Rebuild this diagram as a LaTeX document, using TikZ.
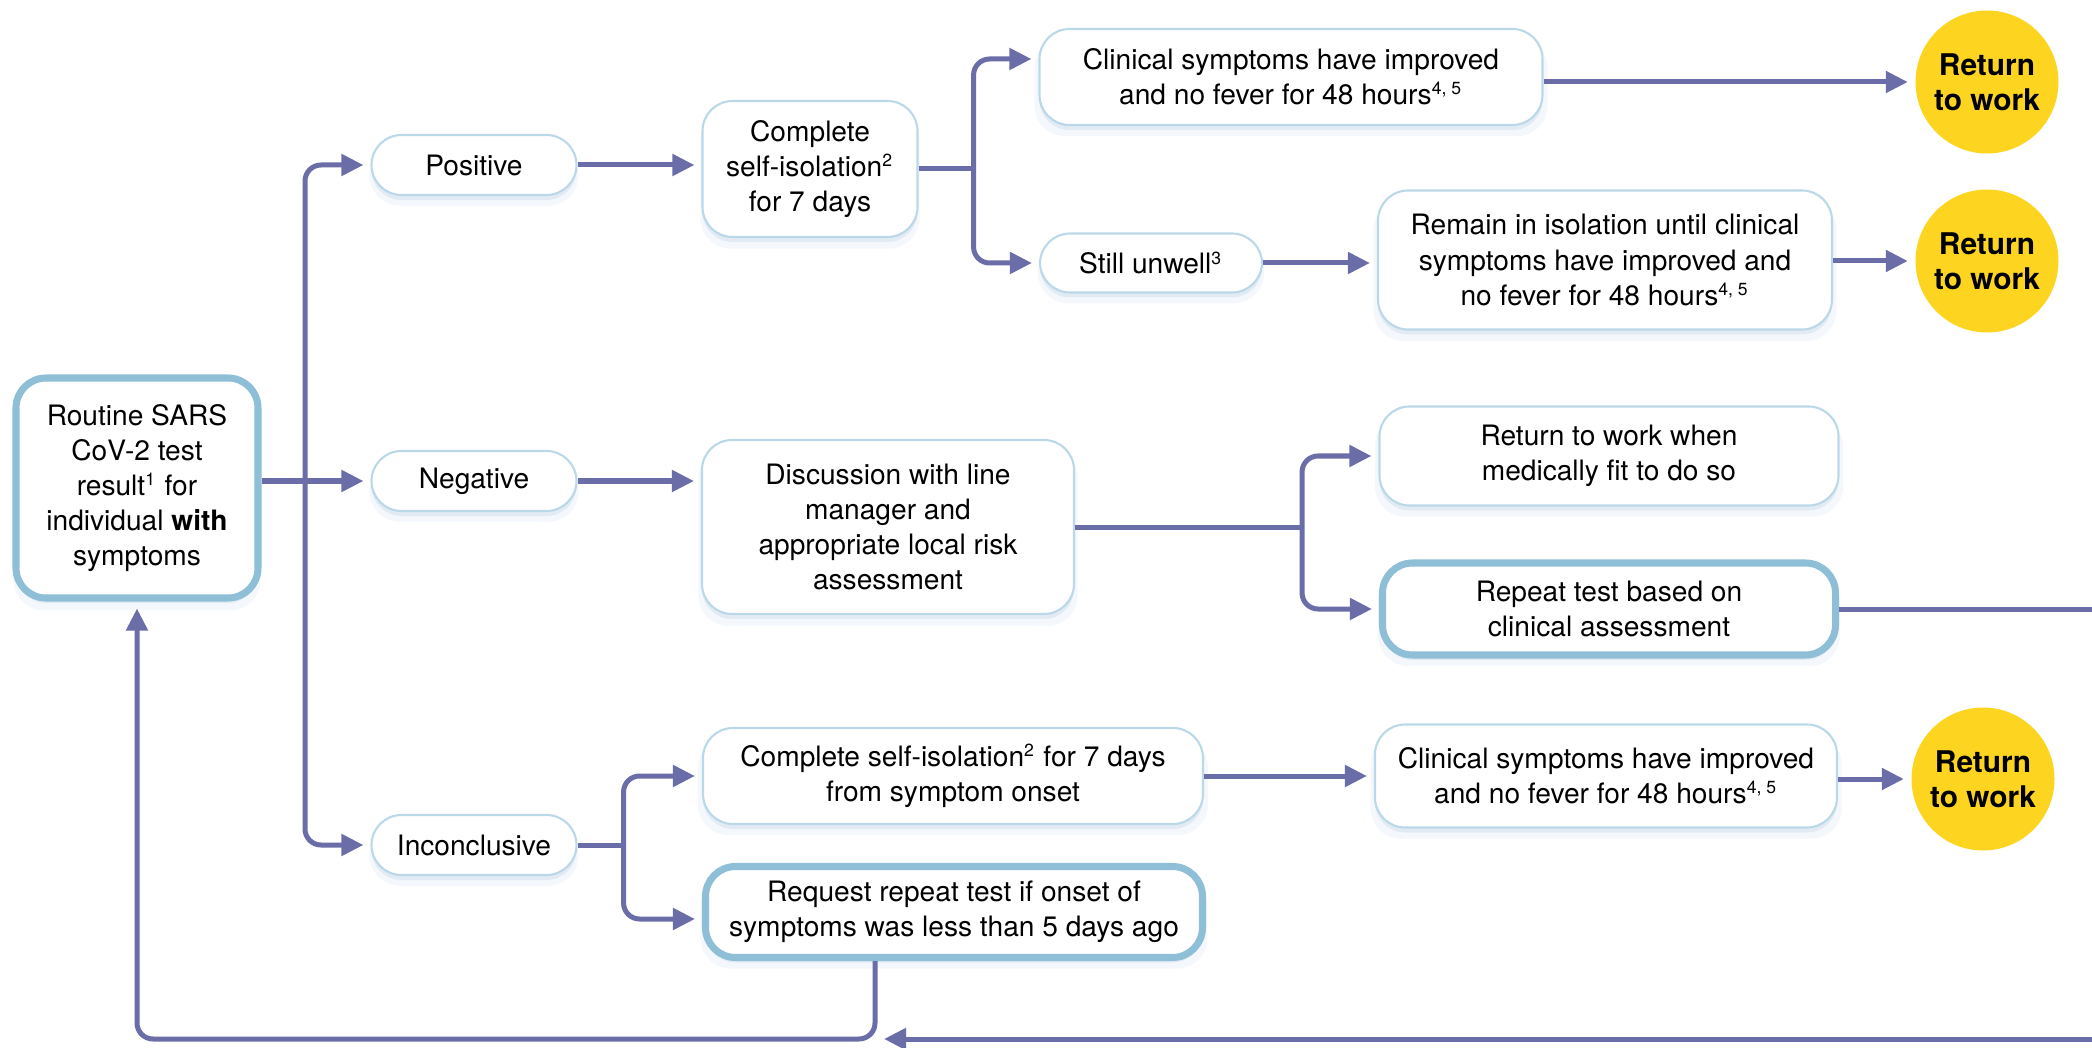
\documentclass[tikz,border=0pt]{standalone}
\usepackage{fontspec}
\setmainfont{TeX Gyre Heros}
\usetikzlibrary{arrows.meta,shadows,positioning,calc}

\definecolor{linkblue}{HTML}{6B6DA8}
\definecolor{boxedge}{HTML}{BBD8E8}
\definecolor{boxthick}{HTML}{8EBFD7}
\definecolor{returnyellow}{HTML}{FDD521}
\definecolor{shadowblue}{HTML}{8FB3D3}

% small footnote marks
\newcommand{\noteref}[1]{\textsuperscript{\fontsize{5}{5}\selectfont #1}}

\begin{document}
\begin{tikzpicture}[
    conn/.style={draw=linkblue,line width=0.05cm,rounded corners=0.16cm,
      -{Triangle[length=0.22cm,width=0.21cm]},shorten >=0.07cm},
    line/.style={draw=linkblue,line width=0.05cm,rounded corners=0.16cm},
    box/.style={draw=boxedge,line width=0.6pt,fill=white,rounded corners=0.3cm,
      align=center,inner sep=0pt,font=\fontsize{8}{10}\selectfont,
      drop shadow={shadow xshift=0cm,shadow yshift=-0.05cm,opacity=0.18,fill=shadowblue},
      drop shadow={shadow xshift=0cm,shadow yshift=-0.1cm,shadow scale=1.02,opacity=0.1,fill=shadowblue}},
    thickbox/.style={box,draw=boxthick,line width=2pt},
    pill/.style={box,minimum width=2.05cm,minimum height=0.6cm},
    retnode/.style={circle,fill=returnyellow,minimum size=1.43cm,inner sep=0pt,
      align=center,font=\fontsize{8.5}{10}\selectfont\bfseries}]

    \useasboundingbox (0,0) rectangle (20.92,10.47);

    % test result and the three outcomes
    \node[thickbox,minimum width=2.42cm,minimum height=2.2cm] (routine) at (1.37,5.59)
        {Routine SARS\\CoV-2 test\\result\noteref{1} for\\individual \textbf{with}\\symptoms};
    \node[pill] (pos) at (4.74,8.82) {Positive};
    \node[pill] (neg) at (4.74,5.66) {Negative};
    \node[pill] (inc) at (4.74,2.02) {Inconclusive};

    % positive branch
    \node[box,minimum width=2.15cm,minimum height=1.36cm] (iso) at (8.10,8.78)
        {Complete\\self-isolation\noteref{2}\\for 7 days};
    \node[box,minimum width=5.03cm,minimum height=0.96cm] (clin1) at (12.91,9.70)
        {Clinical symptoms have improved\\and no fever for 48 hours\noteref{4, 5}};
    \node[pill,minimum width=2.22cm,minimum height=0.59cm] (unwell) at (11.51,7.84)
        {Still unwell\noteref{3}};
    \node[box,minimum width=4.54cm,minimum height=1.39cm] (remain) at (16.05,7.87)
        {Remain in isolation until clinical\\symptoms have improved and\\no fever for 48 hours\noteref{4, 5}};

    % negative branch
    \node[box,minimum width=3.72cm,minimum height=1.74cm] (disc) at (8.88,5.20)
        {Discussion with line\\manager and\\appropriate local risk\\assessment};
    \node[box,minimum width=4.59cm,minimum height=0.99cm] (fit) at (16.09,5.91)
        {Return to work when\\medically fit to do so};
    \node[thickbox,minimum width=4.53cm,minimum height=0.92cm] (rep) at (16.09,4.38)
        {Repeat test based on\\clinical assessment};

    % inconclusive branch
    \node[box,minimum width=5.0cm,minimum height=0.96cm] (iso2) at (9.53,2.71)
        {Complete self-isolation\noteref{2} for 7 days\\from symptom onset};
    \node[box,minimum width=4.62cm,minimum height=1.03cm] (clin2) at (16.06,2.71)
        {Clinical symptoms have improved\\and no fever for 48 hours\noteref{4, 5}};
    \node[thickbox,minimum width=4.97cm,minimum height=0.91cm] (req) at (9.54,1.35)
        {Request repeat test if onset of\\symptoms was less than 5 days ago};

    \foreach \n/\x/\y in {ret1/19.87/9.65, ret2/19.87/7.86, ret3/19.83/2.68}
        \node[retnode] (\n) at (\x,\y) {Return\\to work};

    % helper points
    \coordinate (split) at (3.05,5.66);
    \coordinate (loop) at (8.75,0.08);
    \coordinate (edge1) at (20.92,4.38);
    \coordinate (edge2) at (20.92,0.08);

    % connectors
    \draw[conn] (routine.east |- neg) -- (neg.west);
    \draw[conn] (split) |- (pos.west);
    \draw[conn] (split) |- (inc.west);

    \draw[conn] (pos.east) -- (iso.west |- pos);
    \draw[line] (iso.east) -- ++(0.55,0) coordinate (b1);
    \draw[conn] (b1) |- ([yshift=0.18cm]clin1.west);
    \draw[conn] (b1) |- (unwell.west);
    \draw[conn] (clin1.east |- ret1) -- (ret1.west);
    \draw[conn] (unwell.east) -- (remain.west |- unwell);
    \draw[conn] (remain.east |- ret2) -- (ret2.west);

    \draw[conn] (neg.east) -- (disc.west |- neg);
    \draw[line] (disc.east) -- ++(2.27,0) coordinate (b2);
    \draw[conn] (b2) |- (fit.west);
    \draw[conn] (b2) |- (rep.west);
    \draw[line] (rep.east) -- (edge1);

    \draw[line] (inc.east) -- ++(0.46,0) coordinate (b3);
    \draw[conn] (b3) |- (iso2.west);
    \draw[conn] (b3) |- ([yshift=-0.07cm]req.west);
    \draw[conn] (iso2.east) -- (clin2.west |- iso2);
    \draw[conn] (clin2.east |- ret3) -- (ret3.west);

    % back to the start
    \draw[conn] (req.south -| loop) -- (loop) -- (routine.south |- loop) -- (routine.south);
    \draw[conn] (edge2) -- ([xshift=0.02cm]loop);
\end{tikzpicture}
\end{document}
